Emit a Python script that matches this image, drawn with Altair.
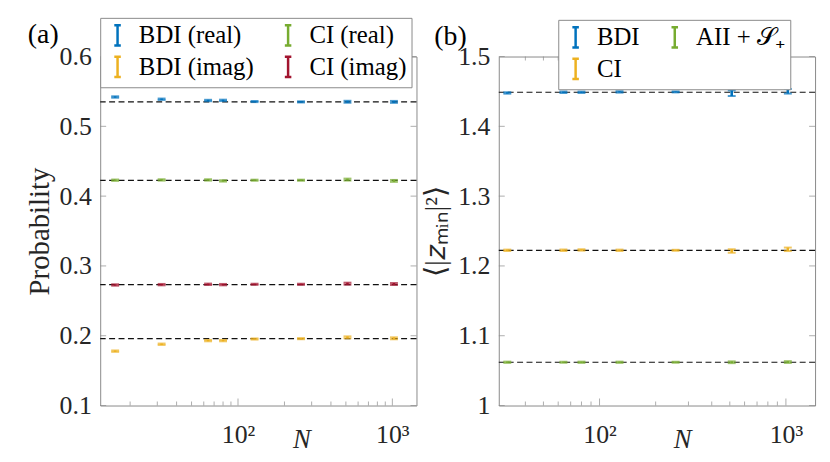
import altair as alt
import pandas as pd

# ---------------- data ----------------
N_a = [16, 32, 64, 80, 128, 256, 512, 1024]
bdi_real = [0.5420, 0.5388, 0.5370, 0.5372, 0.5355, 0.5350, 0.5352, 0.5350]
ci_real = [0.4228, 0.4232, 0.4232, 0.4218, 0.4228, 0.4228, 0.4237, 0.4218]
bdi_imag = [0.1779, 0.1878, 0.1930, 0.1930, 0.1953, 0.1958, 0.1977, 0.1963]
ci_imag = [0.2727, 0.2732, 0.2737, 0.2732, 0.2737, 0.2737, 0.2746, 0.2741]
err_a = [0.0010, 0.0010, 0.0010, 0.0010, 0.0008, 0.0008, 0.0014, 0.0014]
ref_a = [0.5350, 0.4226, 0.2732, 0.1958]

N_b = [32, 64, 80, 128, 256, 512, 1024]
bdi_b = [1.4478, 1.4488, 1.4488, 1.4493, 1.4493, 1.4474, 1.4502]
ci_b = [1.2224, 1.2224, 1.2229, 1.2224, 1.2224, 1.2214, 1.2238]
aii_b = [1.0620, 1.0620, 1.0620, 1.0620, 1.0620, 1.0620, 1.0623]
err_bdi_b = [0.0010, 0.0010, 0.0010, 0.0010, 0.0007, 0.0040, 0.0033]
err_ci_b = [0.0010, 0.0010, 0.0010, 0.0010, 0.0007, 0.0025, 0.0025]
err_aii_b = [0.0009, 0.0009, 0.0009, 0.0009, 0.0007, 0.0013, 0.0013]
ref_b = [1.4488, 1.2224, 1.0620]

names_a = ["BDI (real)", "CI (real)", "BDI (imag)", "CI (imag)"]
colors_a = ["#0072BD", "#77AC30", "#EDB120", "#A2142F"]
names_b = ["BDI", "AII + 𝒮₊", "CI"]
colors_b = ["#0072BD", "#77AC30", "#EDB120"]

xdom_a = [12.8, 1433.6]
xdom_b = [28.8, 1433.6]
ydom_a = [0.1, 0.6]
ydom_b = [1.0, 1.5]
yticks_a = [0.1, 0.2, 0.3, 0.4, 0.5, 0.6]
yticks_b = [1.0, 1.1, 1.2, 1.3, 1.4, 1.5]
xmajor = [100, 1000]
xminor_a = [20, 30, 40, 50, 60, 70, 80, 90, 200, 300, 400, 500, 600, 700, 800, 900]
xminor_b = [40, 50, 60, 70, 80, 90, 200, 300, 400, 500, 600, 700, 800, 900]

W, H = 319, 352
FONT = "Liberation Serif"
GRAY = "#8a8a8a"
TXT = "#262626"


def build_df(N, series):
    rows = []
    for name, (vals, errs) in series.items():
        for n, v, e in zip(N, vals, errs):
            rows.append({"N": n, "series": name, "v": v, "lo": v - e, "hi": v + e})
    return pd.DataFrame(rows)


df_a = build_df(N_a, {
    "BDI (real)": (bdi_real, err_a),
    "CI (real)": (ci_real, err_a),
    "BDI (imag)": (bdi_imag, err_a),
    "CI (imag)": (ci_imag, err_a),
})
df_b = build_df(N_b, {
    "BDI": (bdi_b, err_bdi_b),
    "AII + 𝒮₊": (aii_b, err_aii_b),
    "CI": (ci_b, err_ci_b),
})


def panel(df, refs, xdom, ydom, yticks, yfmt, ytitle, ytitle_x, ntitle_x,
          names, colors, lx, ly, xminor, tag, tag_dx):
    xs = alt.Scale(type="log", domain=xdom, nice=False)
    ys = alt.Scale(domain=ydom, nice=False, zero=False)
    xaxis = alt.Axis(values=xmajor, labelExpr="datum.value == 100 ? '10²' : '10³'",
                     title="N", titleFontStyle="italic", titleFontSize=27,
                     titleFontWeight="normal",
                     titleFont=FONT, titleColor=TXT, titleX=ntitle_x, titleY=42,
                     titleBaseline="alphabetic", titleAlign="center",
                     labelFont=FONT, labelFontSize=26, labelColor=TXT,
                     labelPadding=16, ticks=False, domain=False, grid=False)
    yaxis = alt.Axis(values=yticks, format=yfmt, title=ytitle, titleFont=FONT,
                     titleFontSize=29, titleColor=TXT, titleFontWeight="normal",
                     titleX=ytitle_x, titleY=H / 2, titleAngle=270,
                     titleBaseline="middle", titleAlign="center",
                     labelFont=FONT, labelFontSize=26, labelColor=TXT,
                     labelPadding=9, ticks=False, domain=False, grid=False)
    X = lambda f: alt.X(f, scale=xs, axis=xaxis)
    Y = lambda f: alt.Y(f, scale=ys, axis=yaxis)
    cscale = alt.Scale(domain=names, range=colors)
    legend = alt.Legend(orient="none", legendX=lx, legendY=ly, columns=2, title=None,
                        direction="horizontal",
                        symbolType="M0,-1V1M-0.32,-1H0.32M-0.32,1H0.32",
                        symbolSize=420, symbolStrokeWidth=2.5,
                        labelFont=FONT, labelFontSize=25, labelColor="black",
                        strokeColor=GRAY, fillColor="white", padding=5,
                        rowPadding=1, columnPadding=22, labelOffset=9)
    base = alt.Chart(df)
    ref = alt.Chart(pd.DataFrame({"ref": refs})).mark_rule(
        color="#111111", strokeDash=[6, 3.5], strokeWidth=1.2).encode(y=Y("ref:Q"))
    bars = base.mark_rule(strokeWidth=2.6).encode(
        x=X("N:Q"), y=Y("lo:Q"), y2="hi:Q",
        color=alt.Color("series:N", scale=cscale, legend=legend))
    cap_lo = base.mark_tick(orient="horizontal", size=8, thickness=2).encode(
        x=X("N:Q"), y=Y("lo:Q"), color=alt.Color("series:N", scale=cscale, legend=None))
    cap_hi = base.mark_tick(orient="horizontal", size=8, thickness=2).encode(
        x=X("N:Q"), y=Y("hi:Q"), color=alt.Color("series:N", scale=cscale, legend=None))

    # inward axis ticks (MATLAB style), on all four sides
    def xt(vals, size):
        d = alt.Chart(pd.DataFrame({"t": vals}))
        bot = d.mark_tick(orient="vertical", size=size, thickness=1, color=GRAY,
                          yOffset=-size / 2).encode(
            x=X("t:Q"), y=alt.YDatum(ydom[0], type="quantitative", scale=ys, axis=yaxis))
        top = d.mark_tick(orient="vertical", size=size, thickness=1, color=GRAY,
                          yOffset=size / 2).encode(
            x=X("t:Q"), y=alt.YDatum(ydom[1], type="quantitative", scale=ys, axis=yaxis))
        return [bot, top]

    dy = alt.Chart(pd.DataFrame({"t": yticks}))
    yl = dy.mark_tick(orient="horizontal", size=6, thickness=1, color=GRAY, xOffset=3).encode(
        y=Y("t:Q"), x=alt.XDatum(xdom[0], type="quantitative", scale=xs, axis=xaxis))
    yr = dy.mark_tick(orient="horizontal", size=6, thickness=1, color=GRAY, xOffset=-3).encode(
        y=Y("t:Q"), x=alt.XDatum(xdom[1], type="quantitative", scale=xs, axis=xaxis))

    layers = [ref] + xt(xminor, 4) + xt(xmajor, 7) + [yl, yr, bars, cap_lo, cap_hi]
    return alt.layer(*layers).properties(
        width=W, height=H,
        title=alt.Title(tag, anchor="start", frame="group", dx=tag_dx, fontSize=28,
                        font=FONT, fontWeight="normal", color="black", offset=0, dy=32)
    )


pa = panel(df_a, ref_a, xdom_a, ydom_a, yticks_a, ".1f", "Probability", -61, 203,
           names_a, colors_a, 0, -39, xminor_a, "(a)", -73)
pb = panel(df_b, ref_b, xdom_b, ydom_b, yticks_b, ".1~f", "⟨|𝑧ₘᵢₙ|²⟩", -64, 185,
           names_b, colors_b, 60, -37, xminor_b, "(b)", -65)

chart = alt.hconcat(pa, pb, spacing=83, bounds="flush").resolve_scale(
    color="independent", x="independent", y="independent"
).configure(
    padding={"left": 17, "top": 7, "right": 5, "bottom": 5},
    background="white",
    font=FONT,
).configure_axis(
    labelFont=FONT, titleFont=FONT, labelFontSize=26, labelColor=TXT,
    titleColor=TXT, titleFontWeight="normal",
).configure_legend(
    labelFont=FONT,
).configure_view(stroke=GRAY, strokeWidth=1)

chart.save("out.html", embed_options={"renderer": "svg", "actions": False})
